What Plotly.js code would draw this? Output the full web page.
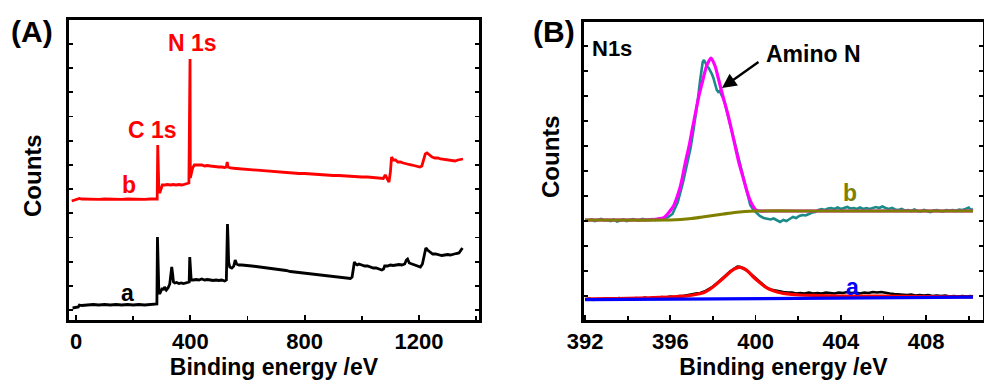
<!DOCTYPE html>
<html>
<head>
<meta charset="utf-8">
<script src="https://cdn.plot.ly/plotly-3.0.1.min.js"></script>
<style>html,body{margin:0;padding:0;background:#fff;}#chart{width:984px;height:385px;}</style>
</head>
<body>
<div id="chart"></div>
<script>
// ---------- Panel A: survey spectra (binding energy eV, counts a.u.) ----------
const surveyA = [[-12,12],[0,12.5],[8,13],[12,15],[20,14.5],[40,15],[60,15.5],[80,15],[100,15.5],[120,15],[140,15.5],[160,15],[180,15.5],[200,15],[220,15.5],[240,15],[260,15.5],[280,15.5],[283,16],[285,83],[287,50],[290,27],[294,27],[298,30],[302,32],[306,30],[310,33],[316,30],[322,32],[328,36],[332,45],[335,53],[338,46],[341,38],[346,37],[352,37.5],[360,36.5],[368,37],[376,36.5],[384,37],[392,37],[396,38],[398,63],[400,48],[403,40],[410,40],[420,40.5],[430,40],[440,41],[450,40],[460,40.5],[470,40],[480,39.5],[490,40],[500,39.5],[510,40],[520,39],[526,40],[528,60],[530,96],[532,80],[534,58],[538,53],[545,52],[552,54],[557,60],[562,56],[570,55],[580,55],[590,54.5],[600,54],[615,54],[630,53.5],[645,53],[660,52.5],[675,52],[690,51],[705,51],[720,50],[735,49.5],[750,48.5],[765,48],[780,47.5],[795,46.5],[810,46],[825,45.5],[840,45],[855,44.5],[870,44],[885,43.5],[900,43],[915,42.5],[930,42],[945,42],[960,41.5],[966,43],[970,52],[974,58],[978,56],[984,55],[990,56],[1000,55],[1010,54],[1020,54],[1030,53],[1040,52],[1050,52],[1060,51],[1070,50],[1076,51],[1080,54],[1090,54],[1100,55],[1110,54.5],[1120,55],[1130,55.5],[1140,55],[1150,56],[1156,60],[1160,61],[1166,57],[1175,56],[1185,55],[1195,54],[1205,53],[1212,56],[1218,66],[1224,72],[1230,70],[1238,68],[1248,66],[1258,66],[1270,65],[1280,64.5],[1290,65],[1300,65.5],[1310,65],[1320,66],[1330,66.5],[1340,67],[1346,70],[1352,72]];
const surveyB = [[-15,119],[-5,120],[5,120.5],[12,121.5],[20,121],[40,120.7],[60,121],[80,120.7],[100,121],[120,120.7],[140,121],[160,120.7],[180,121],[200,120.7],[220,121],[240,120.7],[260,121],[280,121],[284,121],[286,175],[288,150],[290,128],[294,128],[298,133],[302,135],[310,135],[320,135.5],[330,135],[340,135.5],[350,135],[360,135.5],[370,135],[380,135.5],[390,136],[395,137],[397,200],[399,261],[400,142],[403,146],[408,152],[414,155],[420,155],[430,154.5],[440,155],[450,154],[460,154.5],[470,154],[480,153.5],[490,153.5],[500,153],[510,153],[520,152.5],[526,153],[529,158],[532,153],[540,152],[560,151.5],[580,151],[600,150.5],[620,150],[640,149.5],[660,149],[680,148.5],[700,148],[720,147.5],[740,147.5],[760,147],[780,146.5],[800,146.5],[820,146],[840,145.5],[860,145.5],[880,145],[900,144.5],[920,144.5],[940,144],[960,144],[980,143.5],[1000,143],[1020,143],[1040,142.5],[1060,142],[1075,141.5],[1082,145],[1088,141],[1095,138],[1100,148],[1104,163],[1110,160],[1118,160],[1126,158],[1135,158],[1145,157],[1155,156],[1165,155.5],[1175,155],[1185,154.5],[1195,154],[1203,153],[1210,154],[1216,160],[1222,166],[1228,167],[1236,165],[1246,163],[1256,162],[1266,162],[1276,161],[1286,160.5],[1296,160],[1306,159.5],[1316,159.5],[1326,159],[1336,160],[1346,160.5],[1354,161]];

// ---------- Panel B: N1s high-resolution ----------
const n1sRawB = [[392.0,100],[392.15,99.5],[392.3,100.5],[392.45,99],[392.6,100],[392.75,101],[392.9,99.5],[393.05,100],[393.2,99],[393.35,100.5],[393.5,98.5],[393.65,99.5],[393.8,100.5],[393.95,99],[394.1,100],[394.25,101],[394.4,100],[394.55,99.5],[394.7,101],[394.85,100],[395.0,100.5],[395.15,101],[395.3,100],[395.45,101.5],[395.6,101],[395.75,102],[395.9,103],[396.1,106],[396.35,118],[396.6,138],[396.8,158],[396.95,172],[397.1,192],[397.2,205],[397.3,222],[397.4,240],[397.47,252],[397.52,258],[397.58,260],[397.65,256],[397.72,254],[397.8,252],[397.88,249],[397.95,246],[398.02,242],[398.1,236],[398.18,230],[398.25,228],[398.32,229],[398.4,225],[398.48,222],[398.56,217],[398.7,205],[398.85,190],[399.05,173],[399.25,156],[399.45,140],[399.6,126],[399.75,115],[399.9,110],[400.06,107],[400.2,104],[400.38,102],[400.55,101],[400.7,100.5],[400.85,101.5],[401.0,99.5],[401.15,98],[401.3,100],[401.45,99],[401.6,101],[401.75,103],[401.9,102],[402.05,104],[402.2,105],[402.35,104.5],[402.5,106],[402.65,107.5],[402.8,108],[402.95,110],[403.1,111],[403.25,110],[403.4,111.5],[403.55,112],[403.7,111],[403.85,112.5],[404.0,111],[404.15,112],[404.3,113],[404.45,111.5],[404.6,112],[404.75,111],[404.9,112.5],[405.05,111],[405.2,112],[405.35,111],[405.5,112],[405.65,113],[405.8,112],[405.95,113.5],[406.1,112],[406.25,111],[406.4,112],[406.55,110.5],[406.7,110],[406.85,111],[407.0,109.5],[407.15,110],[407.3,109],[407.45,110.5],[407.6,109],[407.75,108.5],[407.9,110],[408.05,109],[408.2,108],[408.35,109.5],[408.5,110],[408.65,109],[408.8,108.5],[408.95,110],[409.1,109.5],[409.25,110],[409.4,109],[409.55,110.5],[409.7,110],[409.85,111],[410.0,112.5],[410.1,110],[410.2,111]];
const n1sFitB = [[392,100],[394,100],[395,100.2],[395.4,101],[395.67,102],[395.85,105.5],[396.02,110],[396.15,114],[396.3,122],[396.45,132],[396.56,142],[396.7,157],[396.89,175],[397.05,193],[397.19,208],[397.35,225],[397.55,242],[397.7,254],[397.91,262],[398.1,254],[398.25,242],[398.45,225],[398.67,208],[398.85,192],[399.03,175],[399.2,159],[399.42,142],[399.55,132],[399.7,122],[399.85,115],[400.02,110],[400.2,109],[400.5,109],[405,109],[410.2,109]];
const n1sBgB = [[392,100],[396,100],[396.5,100.5],[397,101.5],[397.5,103],[398,104.5],[398.5,106],[399,107.5],[399.5,108.5],[400,109],[402,109],[406,109],[410.2,109]];
const n1sRawA = [[392.0,20.5],[392.2,21.5],[392.4,20],[392.6,21],[392.8,20.5],[393.0,21.5],[393.2,20.5],[393.4,21],[393.6,22],[393.8,20.5],[394.0,21.5],[394.2,21],[394.4,22],[394.6,21],[394.8,22.5],[395.0,21.5],[395.2,22.5],[395.4,22],[395.6,23],[395.8,22.5],[396.0,23.5],[396.2,23],[396.4,24],[396.6,24],[396.8,25],[397.0,25.5],[397.2,26.5],[397.4,27],[397.6,28.5],[397.8,31],[398.0,33.5],[398.2,37],[398.4,40.5],[398.6,44.5],[398.8,48.5],[399.0,51],[399.15,53.5],[399.3,53],[399.45,51.5],[399.6,49.5],[399.75,46.5],[399.9,43.5],[400.1,39.5],[400.3,35.5],[400.5,32.5],[400.7,30.5],[400.9,29.5],[401.1,29],[401.3,28],[401.5,27.5],[401.7,27.5],[401.9,26.5],[402.1,27],[402.3,26.5],[402.5,27.5],[402.7,26.5],[402.9,27],[403.1,26.5],[403.3,27.5],[403.5,27],[403.7,26.5],[403.9,27.5],[404.1,27],[404.3,28],[404.5,27],[404.7,27.5],[404.9,26.5],[405.1,27.5],[405.3,27],[405.5,28],[405.7,27.5],[405.9,28],[406.1,27],[406.3,26.5],[406.5,26],[406.7,25.5],[406.9,25.5],[407.1,25],[407.3,25.5],[407.5,24.5],[407.7,25],[407.9,24.5],[408.1,25],[408.3,24],[408.5,24.5],[408.7,24],[408.9,24.5],[409.1,23.5],[409.3,24],[409.5,23.5],[409.7,24],[409.9,23.5],[410.1,24],[410.2,23.5]];
const n1sFitA = [[392,21],[393,21.3],[394,21.7],[395,22.2],[396,23],[396.5,23.6],[396.92,24.5],[397.25,25.8],[397.55,27.3],[397.8,30],[398.01,33.3],[398.25,37.5],[398.48,41.7],[398.7,46],[398.88,49.3],[399.05,51.5],[399.24,52.7],[399.45,51.5],[399.66,48.3],[399.85,44],[400.05,40],[400.25,36.5],[400.44,33.3],[400.63,31],[400.83,29.3],[401.05,27.8],[401.3,26.7],[401.7,25.6],[402.08,25],[403,24.5],[404,24],[406,23.8],[408,23.5],[410.2,23]];
const n1sBgA = [[392,20.3],[396,21],[400,21.6],[404,22.2],[408,22.6],[410.2,22.8]];

const xTicksA = [0, 400, 800, 1200];
const xTicksB = [392, 396, 400, 404, 408];

// ---------- layout helpers ----------
const W = 984, H = 385, MB = 65;
const PH = H - MB;
const px = v => v / W;
const py = v => (PH - v) / PH;
const FONT = 'Liberation Sans, Arial, sans-serif';
const xs = d => d.map(p => p[0]);
const ys = d => d.map(p => p[1]);

function tr(data, color, width, xa, ya, shape) {
  return {x: xs(data), y: ys(data), type: 'scatter', mode: 'lines',
    line: {color: color, width: width, shape: shape || 'linear', smoothing: 0.6},
    xaxis: xa, yaxis: ya, hoverinfo: 'skip', showlegend: false};
}

const traces = [
  tr(surveyA, '#000000', 2.8, 'x', 'y'),
  tr(surveyB, '#ff0000', 2.8, 'x', 'y'),
  tr(n1sRawB, '#1a8a8a', 2.6, 'x2', 'y2'),
  tr(n1sFitB, '#ff00ff', 3.2, 'x2', 'y2', 'spline'),
  tr(n1sBgB, '#808000', 3.2, 'x2', 'y2', 'spline'),
  tr(n1sRawA, '#000000', 2.6, 'x2', 'y2'),
  tr(n1sFitA, '#ff0000', 3.2, 'x2', 'y2', 'spline'),
  tr(n1sBgA, '#0000ff', 3.2, 'x2', 'y2')
];

const tickFont = {family: FONT, size: 22, color: '#000', weight: 'bold'};
const titleFont = {family: FONT, size: 23, color: '#000', weight: 'bold'};
const axCommon = {showgrid: false, zeroline: false, showline: true, linewidth: 3,
  linecolor: '#000', ticks: 'inside', tickwidth: 1.8, tickcolor: '#000', fixedrange: true};

function ann(text, x, y, size, color, extra) {
  return Object.assign({text: text, xref: 'paper', yref: 'paper', x: px(x), y: py(y),
    xanchor: 'center', yanchor: 'middle', showarrow: false,
    font: {family: FONT, size: size, color: color, weight: 'bold'}}, extra || {});
}

const layout = {
  width: W, height: H,
  margin: {l: 0, r: 0, t: 0, b: MB, pad: 0},
  paper_bgcolor: '#fff', plot_bgcolor: '#fff',
  showlegend: false,
  xaxis: Object.assign({}, axCommon, {domain: [px(69), px(479)], range: [-24.5, 1410],
    tickvals: xTicksA, ticktext: xTicksA.map(String), ticklen: 5, mirror: true, anchor: 'y',
    minor: {dtick: 200, tick0: 0, ticks: 'inside', ticklen: 4, tickwidth: 1.8, tickcolor: '#000', showgrid: false},
    tickfont: tickFont, title: {text: 'Binding energy /eV', font: titleFont, standoff: 4}}),
  yaxis: Object.assign({}, axCommon, {domain: [0, py(20)], range: [0, 300], tick0: 10, dtick: 24.2,
    ticklen: 4, showticklabels: false, mirror: 'ticks', anchor: 'x'}),
  xaxis2: Object.assign({}, axCommon, {domain: [px(584), px(983)], range: [391.95, 410.67],
    tickvals: xTicksB, ticktext: xTicksB.map(String), ticklen: 5, mirror: true, anchor: 'y2',
    minor: {dtick: 2, tick0: 392, ticks: 'inside', ticklen: 4, tickwidth: 1.8, tickcolor: '#000', showgrid: false},
    tickfont: tickFont, title: {text: 'Binding energy /eV', font: titleFont, standoff: 4}}),
  yaxis2: Object.assign({}, axCommon, {domain: [0, py(22)], range: [0, 298], tick0: 24, dtick: 25,
    ticklen: 4, showticklabels: false, mirror: 'ticks', anchor: 'x2'}),
  annotations: [
    ann('(A)', 32, 32, 30, '#000'),
    ann('(B)', 554, 32, 30, '#000'),
    ann('Counts', 32, 176, 24, '#000', {textangle: -90}),
    ann('Counts', 550, 157, 24, '#000', {textangle: -90}),
    ann('N 1s', 192, 43, 23, '#ff0000'),
    ann('C 1s', 152, 130, 23, '#ff0000'),
    ann('b', 129, 185, 23, '#ff0000'),
    ann('a', 127, 293, 23, '#000'),
    ann('N1s', 612, 48, 22, '#000'),
    ann('Amino N', 813, 54, 23, '#000'),
    ann('b', 850, 193, 23, '#808000'),
    ann('a', 852, 287, 23, '#0000ff'),
    {text: ' ', xref: 'paper', yref: 'paper', x: px(722), y: py(88), axref: 'pixel', ayref: 'pixel',
      ax: 38, ay: -27, showarrow: true, arrowhead: 2, arrowsize: 1.2, arrowwidth: 2.4,
      arrowcolor: '#000', font: {size: 1}}
  ]
};

Plotly.newPlot('chart', traces, layout, {staticPlot: true, displayModeBar: false});
</script>
</body>
</html>
